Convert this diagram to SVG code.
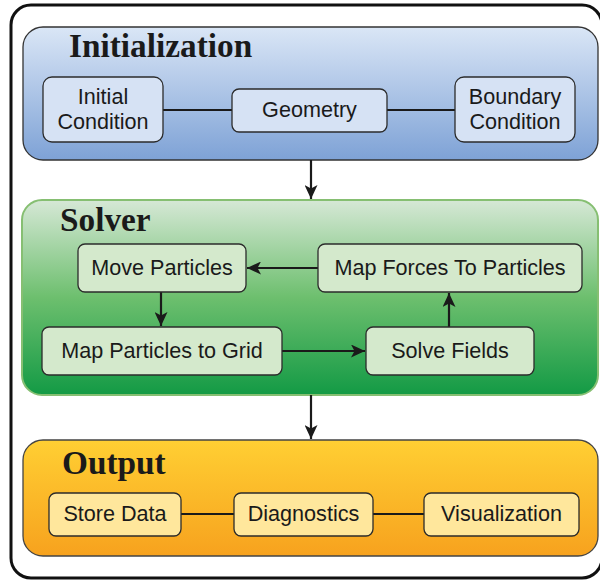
<svg xmlns="http://www.w3.org/2000/svg" width="600" height="583" viewBox="0 0 600 583">
<style>
.title{font-family:"Liberation Serif","Times New Roman",serif;font-weight:bold;font-size:33.3px;fill:#1a1a1a}
.lbl{font-family:"Liberation Sans",Arial,sans-serif;font-size:21.6px;fill:#1a1a1a;text-anchor:middle}
.node{stroke:#2b2b2b;stroke-width:1.3}
.ini{fill:#d6e2f4}
.sol{fill:#d4e9cc}
.out{fill:#ffe79c}
.con{stroke:#1a1a1a;stroke-width:2.2;fill:none}
</style>
<defs>
<linearGradient id="gInit" x1="0" y1="0" x2="0" y2="1">
<stop offset="0" stop-color="#dae6f6"/>
<stop offset="1" stop-color="#7ea2d6"/>
</linearGradient>
<linearGradient id="gSol" x1="0" y1="0" x2="0" y2="1">
<stop offset="0" stop-color="#d6e8d6"/>
<stop offset="0.5" stop-color="#6dbf6e"/>
<stop offset="1" stop-color="#139a45"/>
</linearGradient>
<linearGradient id="gOut" x1="0" y1="0" x2="0" y2="1">
<stop offset="0" stop-color="#ffcf33"/>
<stop offset="1" stop-color="#f7a21e"/>
</linearGradient>
<marker id="ah" markerWidth="15" markerHeight="13" refX="14" refY="6.5" orient="auto" markerUnits="userSpaceOnUse">
<path d="M0,0 L14,6.5 L0,13 L3.5,6.5 Z" fill="#1a1a1a"/>
</marker>
</defs>
<rect x="0" y="0" width="600" height="583" fill="#ffffff"/>
<rect x="11" y="5" width="591" height="573" rx="20" fill="#ffffff" stroke="#111" stroke-width="3"/>

<g id="initialization">
<rect x="23" y="27" width="575" height="133" rx="20" fill="url(#gInit)" stroke="#333" stroke-width="1.3"/>
<text class="title" x="69" y="57">Initialization</text>
</g>
<g id="solver">
<rect x="22" y="200" width="576" height="195" rx="20" fill="url(#gSol)" stroke="#86bf72" stroke-width="2"/>
<text class="title" x="60" y="231">Solver</text>
</g>
<g id="output">
<rect x="23" y="440" width="575" height="116" rx="20" fill="url(#gOut)" stroke="#444" stroke-width="1.3"/>
<text class="title" x="62" y="474">Output</text>
</g>

<g id="connectors">
<line class="con" x1="163" y1="110" x2="232" y2="110"/>
<line class="con" x1="387" y1="110" x2="455" y2="110"/>
<line class="con" x1="311" y1="160" x2="311" y2="199" marker-end="url(#ah)"/>
<line class="con" x1="318" y1="268" x2="247" y2="268" marker-end="url(#ah)"/>
<line class="con" x1="161" y1="292" x2="161" y2="326" marker-end="url(#ah)"/>
<line class="con" x1="282" y1="351" x2="365" y2="351" marker-end="url(#ah)"/>
<line class="con" x1="449" y1="327" x2="449" y2="293" marker-end="url(#ah)"/>
<line class="con" x1="311" y1="395" x2="311" y2="439" marker-end="url(#ah)"/>
<line class="con" x1="181" y1="514" x2="234" y2="514"/>
<line class="con" x1="373" y1="514" x2="424" y2="514"/>
</g>

<g id="initial-condition">
<rect class="node ini" x="43" y="77" width="120" height="65" rx="9"/>
<text class="lbl" x="103" y="104">Initial</text>
<text class="lbl" x="103" y="129">Condition</text>
</g>
<g id="geometry">
<rect class="node ini" x="232" y="89" width="155" height="43" rx="7"/>
<text class="lbl" x="309.5" y="117">Geometry</text>
</g>
<g id="boundary-condition">
<rect class="node ini" x="455" y="77" width="120" height="65" rx="9"/>
<text class="lbl" x="515" y="104">Boundary</text>
<text class="lbl" x="515" y="129">Condition</text>
</g>

<g id="move-particles">
<rect class="node sol" x="78" y="244" width="168" height="48" rx="7"/>
<text class="lbl" x="162" y="275">Move Particles</text>
</g>
<g id="map-forces">
<rect class="node sol" x="318" y="244" width="264" height="48" rx="7"/>
<text class="lbl" x="450" y="275">Map Forces To Particles</text>
</g>
<g id="map-particles">
<rect class="node sol" x="42" y="327" width="240" height="48" rx="7"/>
<text class="lbl" x="162" y="358">Map Particles to Grid</text>
</g>
<g id="solve-fields">
<rect class="node sol" x="366" y="327" width="168" height="48" rx="7"/>
<text class="lbl" x="450" y="358">Solve Fields</text>
</g>

<g id="store-data">
<rect class="node out" x="49" y="493" width="132" height="43" rx="7"/>
<text class="lbl" x="115" y="521">Store Data</text>
</g>
<g id="diagnostics">
<rect class="node out" x="234" y="493" width="139" height="43" rx="7"/>
<text class="lbl" x="303.5" y="521">Diagnostics</text>
</g>
<g id="visualization">
<rect class="node out" x="424" y="493" width="155" height="43" rx="7"/>
<text class="lbl" x="501.5" y="521">Visualization</text>
</g>
</svg>
